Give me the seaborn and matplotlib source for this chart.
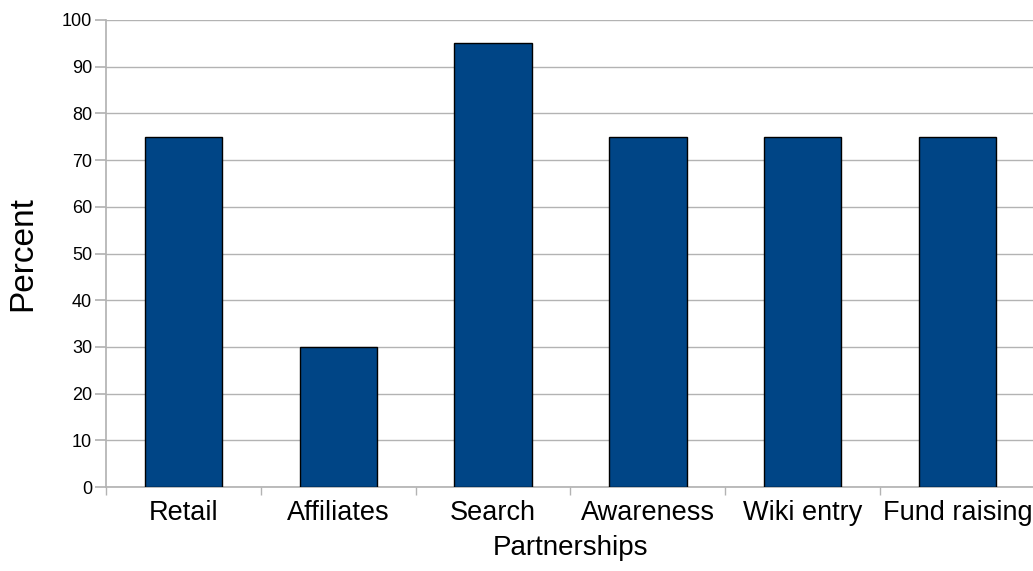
import matplotlib
matplotlib.use("Agg")
import matplotlib.pyplot as plt
import seaborn as sns
import pandas as pd
from matplotlib.ticker import FixedLocator

categories = ["Retail", "Affiliates", "Search", "Awareness", "Wiki entry", "Fund raising"]
values = [75, 30, 95, 75, 75, 75]
y_ticks = list(range(0, 101, 10))

sns.set_theme(style="white")
plt.rcParams['font.family'] = ['Liberation Sans', 'DejaVu Sans']

df = pd.DataFrame({"cat": categories, "val": values})

fig = plt.figure(figsize=(10.33, 5.71), dpi=100)
ax = fig.add_axes([106/1033, 1-487/571, (1035-106)/1033, (487-20)/571])

sns.barplot(data=df, x="cat", y="val", ax=ax, color="#004586", saturation=1,
            width=0.5, edgecolor="black", linewidth=1, zorder=3)

ax.set_xlim(-0.5, len(categories) - 0.5)
ax.set_ylim(0, 100)
ax.set_yticks(y_ticks)
ax.yaxis.grid(True, color="#b3b3b3", linewidth=1, zorder=0)
ax.set_axisbelow(True)

for s in ["top", "right"]:
    ax.spines[s].set_visible(False)
ax.spines["left"].set_color("#b3b3b3")
ax.spines["bottom"].set_color("#b3b3b3")

ax.tick_params(axis="y", which="major", length=8, color="#b3b3b3", labelsize=13, pad=2, labelcolor="black", left=True)
ax.tick_params(axis="x", which="major", length=0, labelsize=19.5, pad=9, labelcolor="black")
ax.xaxis.set_minor_locator(FixedLocator([i - 0.5 for i in range(len(categories) + 1)]))
ax.tick_params(axis="x", which="minor", length=6, color="#b3b3b3", bottom=True)

ax.set_xlabel("Partnerships", fontsize=20, labelpad=7, color="black")
ax.set_ylabel("Percent", fontsize=24, labelpad=17, color="black")

fig.savefig("out.png", dpi=100)
